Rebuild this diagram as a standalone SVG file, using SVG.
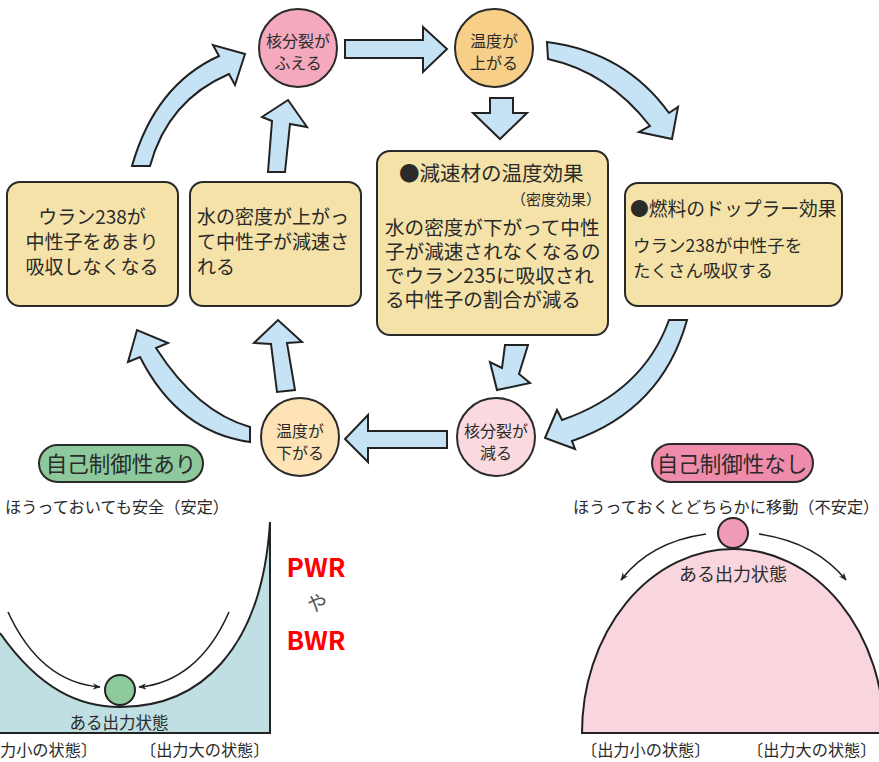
<svg xmlns="http://www.w3.org/2000/svg" width="879" height="762" viewBox="0 0 879 762">
<style>
  text { font-family: "Noto Sans CJK JP", "Noto Sans", sans-serif; fill: #2a2a2a; }
  .box { fill: #f5e2a8; stroke: #2a2a2a; stroke-width: 2; }
  .circ { stroke: #2a2a2a; stroke-width: 2; }
  .ct { font-size: 16px; text-anchor: middle; }
  .bt { font-size: 19px; }
  .arr { fill: #c6e3f6; stroke: #222; stroke-width: 2; stroke-linejoin: miter; }
  .thin { fill: none; stroke: #222; stroke-width: 1.6; }
  .lbl { font-size: 16.2px; }
</style>
<defs>
  <marker id="ah" viewBox="0 0 10 10" refX="9" refY="5" markerWidth="8" markerHeight="8" orient="auto" markerUnits="userSpaceOnUse">
    <path d="M0,1 L10,5 L0,9 L3,5 Z" fill="#222"/>
  </marker>
</defs>

<!-- connectors -->
<g id="connectors">
  <path class="arr" d="M132,166 Q155,85 219,56 L213,45 L245,54 L235,85 L229,74 Q168,100 150,166 Z"/>
  <path class="arr" d="M268,172 L272,121 L262,117 L288,100 L307,127 L290,124 L285,172 Z"/>
  <path class="arr" d="M345,40 L423,40 L423,27 L447,49 L423,72 L423,58 L345,58 Z"/>
  <path class="arr" d="M490,98 L513,98 L513,113 L527,113 L500,139 L473,113 L490,113 Z"/>
  <path class="arr" d="M547,42 Q625,52 669,113 L678,107 L672,139 L639,132 L650,126 Q608,72 548,59 Z"/>
  <path class="arr" d="M669,320 L687,320 Q662,410 572,441 L575,449 L545,438 L557,410 L562,420 Q643,392 669,320 Z"/>
  <path class="arr" d="M505,345 L528,345 L519,374 L530,383 L497,390 L490,362 L502,368 Z"/>
  <path class="arr" d="M447,431 L368,431 L368,415 L345,439 L368,462 L368,448 L447,448 Z"/>
  <path class="arr" d="M277,392 L271,344 L254,343 L278,320 L302,342 L287,343 L295,390 Z"/>
  <path class="arr" d="M250,427 L250,442 Q178,432 140,357 L128,362 L137,330 L168,343 L156,348 Q197,412 250,427 Z"/>
</g>

<!-- circle nodes -->
<g id="n-fission-up">
  <circle class="circ" cx="298" cy="48" r="39" fill="#f4a9bd"/>
  <text class="ct" x="298" y="47">核分裂が</text>
  <text class="ct" x="298" y="69">ふえる</text>
</g>
<g id="n-temp-up">
  <circle class="circ" cx="494" cy="48" r="39" fill="#f8cf88"/>
  <text class="ct" x="494" y="47">温度が</text>
  <text class="ct" x="494" y="69">上がる</text>
</g>
<g id="n-temp-down">
  <circle class="circ" cx="300" cy="437" r="39" fill="#fde3b5"/>
  <text class="ct" x="300" y="437">温度が</text>
  <text class="ct" x="300" y="459">下がる</text>
</g>
<g id="n-fission-down">
  <circle class="circ" cx="496" cy="437" r="39" fill="#fadade"/>
  <text class="ct" x="496" y="437">核分裂が</text>
  <text class="ct" x="496" y="459">減る</text>
</g>

<!-- boxes -->
<g id="b-u238">
  <rect class="box" x="7" y="182" width="171" height="124" rx="13"/>
  <text class="bt" x="92" y="224" text-anchor="middle">ウラン238が</text>
  <text class="bt" x="92" y="249" text-anchor="middle">中性子をあまり</text>
  <text class="bt" x="92" y="274" text-anchor="middle">吸収しなくなる</text>
</g>
<g id="b-density-up">
  <rect class="box" x="190" y="182" width="171" height="124" rx="13"/>
  <text class="bt" x="197" y="224">水の密度が上がっ</text>
  <text class="bt" x="197" y="249">て中性子が減速さ</text>
  <text class="bt" x="197" y="274">れる</text>
</g>
<g id="b-moderator">
  <rect class="box" x="377" y="151" width="231" height="184" rx="13"/>
  <text x="399" y="181" font-size="20.5">●減速材の温度効果</text>
  <text x="601" y="205" font-size="15" text-anchor="end">（密度効果）</text>
  <text x="385" y="235" font-size="19.6">水の密度が下がって中性</text>
  <text x="385" y="259" font-size="19.6">子が減速されなくなるの</text>
  <text x="385" y="283" font-size="19.6">でウラン235に吸収され</text>
  <text x="385" y="307" font-size="19.6">る中性子の割合が減る</text>
</g>
<g id="b-doppler">
  <rect class="box" x="625" y="183" width="217" height="123" rx="13"/>
  <text x="630" y="216" font-size="18.8">●燃料のドップラー効果</text>
  <text x="633" y="252" font-size="17.5">ウラン238が中性子を</text>
  <text x="633" y="277" font-size="17.5">たくさん吸収する</text>
</g>

<!-- stable side -->
<g id="stable">
  <rect x="39" y="445" width="164" height="37" rx="18.5" fill="#8dc99b" stroke="#2a2a2a" stroke-width="2"/>
  <text x="121" y="472" font-size="21.5" text-anchor="middle">自己制御性あり</text>
  <text x="5" y="513" font-size="16.2">ほうっておいても安全（安定）</text>
  <path d="M0,633 C40,690 80,707 120,707 C200,707 262,650 270,522 L270,733 L0,733 Z" fill="#bfdfe3"/>
  <path d="M0,633 C40,690 80,707 120,707 C200,707 262,650 270,522 L270,733 L0,733" fill="none" stroke="#222" stroke-width="2"/>
  <path class="thin" d="M8,612 C30,660 62,684 100,687" marker-end="url(#ah)"/>
  <path class="thin" d="M229,612 C208,660 176,684 139,687" marker-end="url(#ah)"/>
  <circle cx="120" cy="690" r="15" fill="#8dc99b" stroke="#222" stroke-width="2"/>
  <text x="119" y="729" font-size="16.5" text-anchor="middle">ある出力状態</text>
  <text class="lbl" x="0" y="756">力小の状態〕</text>
  <text class="lbl" x="140" y="756">〔出力大の状態〕</text>
</g>

<g id="types">
  <text x="316" y="577" font-family="Liberation Sans, Arial, sans-serif" font-weight="bold" font-size="26" style="fill:#ff0000" text-anchor="middle">PWR</text>
  <text x="317" y="611" font-size="20" text-anchor="middle" style="fill:#555">や</text>
  <text x="316" y="650" font-family="Liberation Sans, Arial, sans-serif" font-weight="bold" font-size="26" style="fill:#ff0000" text-anchor="middle">BWR</text>
</g>

<!-- unstable side -->
<g id="unstable">
  <rect x="652" y="444" width="161" height="38" rx="19" fill="#f08cab" stroke="#2a2a2a" stroke-width="2"/>
  <text x="732" y="472" font-size="21.5" text-anchor="middle">自己制御性なし</text>
  <text x="573" y="513" font-size="16.2">ほうっておくとどちらかに移動（不安定）</text>
  <path d="M582,733 A151,184 0 0 1 884,733 Z" fill="#f9d6de" stroke="#222" stroke-width="2"/>
  <circle cx="733" cy="533" r="15" fill="#ef9bb5" stroke="#222" stroke-width="2"/>
  <path class="thin" d="M706,534 Q650,542 621,580" marker-end="url(#ah)"/>
  <path class="thin" d="M759,534 Q815,542 846,580" marker-end="url(#ah)"/>
  <text x="733" y="581" font-size="18" text-anchor="middle">ある出力状態</text>
  <text class="lbl" x="581" y="756">〔出力小の状態〕</text>
  <text class="lbl" x="747" y="756">〔出力大の状態〕</text>
</g>
</svg>
